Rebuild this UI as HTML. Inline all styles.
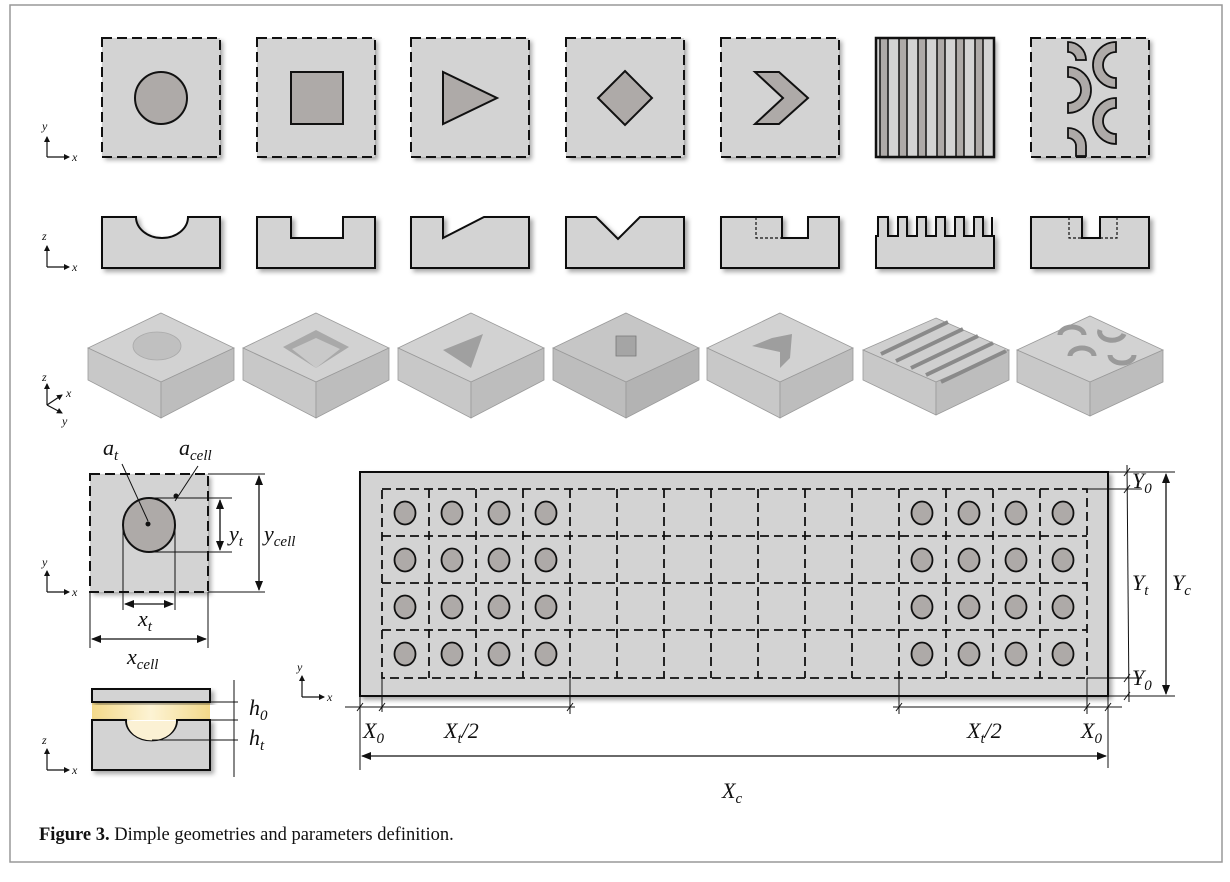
<!DOCTYPE html>
<html><head><meta charset="utf-8"><style>
html,body{margin:0;padding:0;background:#fff;}
svg{display:block;}
.t{font-family:"Liberation Serif",serif;font-style:italic;fill:#111;}
</style></head><body>
<svg width="1230" height="882" viewBox="0 0 1230 882" xmlns="http://www.w3.org/2000/svg">
<defs>
<filter id="sh" x="-10%" y="-10%" width="130%" height="130%"><feDropShadow dx="3" dy="3" stdDeviation="2.5" flood-color="#000" flood-opacity="0.35"/></filter>
<marker id="ah" markerWidth="10" markerHeight="8" refX="9" refY="4" orient="auto-start-reverse" markerUnits="userSpaceOnUse"><path d="M0,0 L10,4 L0,8 z" fill="#111"/></marker>
<marker id="sa" markerWidth="6" markerHeight="6" refX="5" refY="3" orient="auto" markerUnits="userSpaceOnUse"><path d="M0,0 L6,3 L0,6 z" fill="#111"/></marker>
<linearGradient id="yel" x1="0" y1="0" x2="1" y2="0"><stop offset="0" stop-color="#f3d98a"/><stop offset="0.5" stop-color="#fdf3d4"/><stop offset="1" stop-color="#f3d98a"/></linearGradient>
</defs>
<rect x="10" y="5" width="1212" height="857" fill="#fff" stroke="#999" stroke-width="1.5"/>

<!-- axis icons -->
<g stroke="#111" stroke-width="1.2" fill="none">
<path d="M47,157 H69" marker-end="url(#sa)"/><path d="M47,157 V137" marker-end="url(#sa)"/>
<path d="M47,267 H69" marker-end="url(#sa)"/><path d="M47,267 V246" marker-end="url(#sa)"/>
<path d="M47,405 V384" marker-end="url(#sa)"/><path d="M47,405 L62,395" marker-end="url(#sa)"/><path d="M47,405 L62,413" marker-end="url(#sa)"/>
<path d="M47,592 H69" marker-end="url(#sa)"/><path d="M47,592 V571" marker-end="url(#sa)"/>
<path d="M47,770 H69" marker-end="url(#sa)"/><path d="M47,770 V749" marker-end="url(#sa)"/>
<path d="M302,697 H324" marker-end="url(#sa)"/><path d="M302,697 V676" marker-end="url(#sa)"/>
</g>
<g class="t" font-size="12">
<text x="42" y="130">y</text><text x="72" y="161">x</text>
<text x="42" y="240">z</text><text x="72" y="271">x</text>
<text x="42" y="381">z</text><text x="66" y="397">x</text><text x="62" y="425">y</text>
<text x="42" y="566">y</text><text x="72" y="596">x</text>
<text x="42" y="744">z</text><text x="72" y="774">x</text>
<text x="297" y="671">y</text><text x="327" y="701">x</text>
</g>

<!-- Row 1 -->
<g filter="url(#sh)">
<rect x="102" y="38" width="118" height="119" fill="#d3d3d3"/>
<rect x="257" y="38" width="118" height="119" fill="#d3d3d3"/>
<rect x="411" y="38" width="118" height="119" fill="#d3d3d3"/>
<rect x="566" y="38" width="118" height="119" fill="#d3d3d3"/>
<rect x="721" y="38" width="118" height="119" fill="#d3d3d3"/>
<rect x="876" y="38" width="118" height="119" fill="#d3d3d3"/>
<rect x="1031" y="38" width="118" height="119" fill="#d3d3d3"/>
</g>
<g fill="none" stroke="#111" stroke-width="2" stroke-dasharray="10 5">
<rect x="102" y="38" width="118" height="119"/><rect x="257" y="38" width="118" height="119"/>
<rect x="411" y="38" width="118" height="119"/><rect x="566" y="38" width="118" height="119"/>
<rect x="721" y="38" width="118" height="119"/><rect x="1031" y="38" width="118" height="119"/>
</g>
<g fill="#aeaaa8" stroke="#111" stroke-width="2">
<ellipse cx="161" cy="98" rx="26" ry="26"/>
<rect x="291" y="72" width="52" height="52"/>
<polygon points="443,72 443,124 497,98"/>
<polygon points="625,71 652,98 625,125 598,98"/>
<polygon points="755,72 779,72 808,98 779,124 755,124 783,98"/>
</g>
<g stroke="#111" stroke-width="1.5" fill="#aeaaa8">
<rect x="880" y="38" width="8" height="119"/><rect x="899" y="38" width="8" height="119"/>
<rect x="918" y="38" width="8" height="119"/><rect x="937" y="38" width="8" height="119"/>
<rect x="956" y="38" width="8" height="119"/><rect x="975" y="38" width="8" height="119"/>
</g>
<rect x="876" y="38" width="118" height="119" fill="none" stroke="#111" stroke-width="2.5"/>
<g fill="#aeaaa8" stroke="#111" stroke-width="1.8">
<path d="M1068,42 A18,18 0 0 1 1086,60 L1076,60 A8,8 0 0 0 1068,52 Z"/>
<path d="M1068,67 A23,23 0 0 1 1068,113 L1068,103 A13,13 0 0 0 1068,77 Z"/>
<path d="M1068,128 A18,18 0 0 1 1086,146 L1086,156 L1076,156 L1076,146 A8,8 0 0 0 1068,138 Z"/>
<path d="M1116,42 A23,23 0 0 0 1116,88 L1116,78 A13,13 0 0 1 1116,52 Z"/>
<path d="M1116,98 A23,23 0 0 0 1116,144 L1116,134 A13,13 0 0 1 1116,108 Z"/>
</g>

<!-- Row 2 profiles -->
<g fill="#d3d3d3" stroke="#111" stroke-width="2" filter="url(#sh)">
<path d="M102,217 H136 A26,21 0 0 0 188,217 H220 V268 H102 Z"/>
<path d="M257,217 H291 V238 H343 V217 H375 V268 H257 Z"/>
<path d="M411,217 H443 V238 L484,217 H529 V268 H411 Z"/>
<path d="M566,217 H596 L618,239 L640,217 H684 V268 H566 Z"/>
<path d="M721,217 H782 V238 H808 V217 H839 V268 H721 Z"/>
<path d="M878,217 H888 V236 H898 V217 H907 V236 H917 V217 H926 V236 H936 V217 H945 V236 H955 V217 H964 V236 H974 V217 H983 V236 H992 V217 H992 V236 H994 V268 H876 V236 H878 Z"/>
<path d="M1031,217 H1082 V238 H1100 V217 H1149 V268 H1031 Z"/>
</g>
<g stroke="#111" stroke-width="1.2" fill="none" stroke-dasharray="3 2">
<path d="M756,217 V238 H782"/>
<path d="M1069,217 V238 H1082 M1100,238 H1117 V217"/>
</g>

<!-- Row 3 3D blocks -->
<g stroke="#9a9a9a" stroke-width="0.8">
<g transform="translate(161,0)"><polygon points="0,313 73,348 0,382 -73,348" fill="#d2d2d2"/><polygon points="-73,348 0,382 0,418 -73,380" fill="#c8c8c8"/><polygon points="73,348 0,382 0,418 73,380" fill="#bdbdbd"/><ellipse cx="-4" cy="346" rx="24" ry="14" fill="#c0c0c0" stroke="#aaa"/></g>
<g transform="translate(316,0)"><polygon points="0,313 73,348 0,382 -73,348" fill="#d2d2d2"/><polygon points="-73,348 0,382 0,418 -73,380" fill="#c8c8c8"/><polygon points="73,348 0,382 0,418 73,380" fill="#bdbdbd"/><polygon points="0,330 33,347 0,368 -33,347" fill="#a9a9a9" stroke="none"/><polygon points="0,338 24,349 0,368 -24,349" fill="#c9c9c9" stroke="none"/></g>
<g transform="translate(471,0)"><polygon points="0,313 73,348 0,382 -73,348" fill="#d2d2d2"/><polygon points="-73,348 0,382 0,418 -73,380" fill="#c8c8c8"/><polygon points="73,348 0,382 0,418 73,380" fill="#bdbdbd"/><polygon points="-28,350 12,334 0,368" fill="#a0a0a0" stroke="none"/></g>
<g transform="translate(626,0)"><polygon points="0,313 73,348 0,382 -73,348" fill="#c6c6c6"/><polygon points="-73,348 0,382 0,418 -73,380" fill="#bdbdbd"/><polygon points="73,348 0,382 0,418 73,380" fill="#b3b3b3"/><polygon points="-10,336 10,336 10,356 -10,356" fill="#a5a5a5" stroke="#777"/></g>
<g transform="translate(780,0)"><polygon points="0,313 73,348 0,382 -73,348" fill="#d2d2d2"/><polygon points="-73,348 0,382 0,418 -73,380" fill="#c8c8c8"/><polygon points="73,348 0,382 0,418 73,380" fill="#bdbdbd"/><polygon points="-28,346 -8,338 12,334 10,358 0,368 0,352" fill="#9e9e9e" stroke="none"/></g>
<g transform="translate(936,0)"><polygon points="0,318 73,350 0,382 -73,350" fill="#cfcfcf"/><polygon points="-73,350 0,382 0,415 -73,380" fill="#c8c8c8"/><polygon points="73,350 0,382 0,415 73,380" fill="#bdbdbd"/>
<g stroke="#8a8a8a" stroke-width="4"><line x1="-55" y1="354" x2="12" y2="322"/><line x1="-40" y1="361" x2="27" y2="329"/><line x1="-25" y1="368" x2="42" y2="336"/><line x1="-10" y1="375" x2="57" y2="343"/><line x1="5" y1="382" x2="70" y2="351"/></g></g>
<g transform="translate(1090,0)"><polygon points="0,316 73,350 0,382 -73,350" fill="#d2d2d2"/><polygon points="-73,350 0,382 0,416 -73,382" fill="#c8c8c8"/><polygon points="73,350 0,382 0,416 73,382" fill="#bdbdbd"/>
<g fill="none" stroke="#9a9a9a" stroke-width="5"><path d="M-30,335 a12,8 0 0 1 24,0"/><path d="M10,330 a12,8 0 0 0 24,4"/><path d="M-20,356 a12,8 0 0 1 24,0"/><path d="M20,355 a12,8 0 0 0 24,0"/></g></g>
</g>

<!-- Bottom-left cell -->
<rect x="90" y="474" width="118" height="118" fill="#d3d3d3" filter="url(#sh)"/>
<rect x="90" y="474" width="118" height="118" fill="none" stroke="#111" stroke-width="2" stroke-dasharray="10 5"/>
<ellipse cx="149" cy="525" rx="26" ry="27" fill="#aeaaa8" stroke="#111" stroke-width="2"/>
<g stroke="#111" stroke-width="1" fill="none">
<line x1="208" y1="474" x2="265" y2="474"/><line x1="208" y1="592" x2="265" y2="592"/>
<line x1="150" y1="498" x2="232" y2="498"/><line x1="150" y1="552" x2="232" y2="552"/>
<line x1="123" y1="525" x2="123" y2="610"/><line x1="175" y1="525" x2="175" y2="610"/>
<line x1="90" y1="592" x2="90" y2="648"/><line x1="208" y1="592" x2="208" y2="648"/>
<line x1="148" y1="521" x2="122" y2="464"/><line x1="175" y1="501" x2="198" y2="466"/>
</g>
<g stroke="#111" stroke-width="1.3" fill="none">
<line x1="259" y1="476" x2="259" y2="590" marker-start="url(#ah)" marker-end="url(#ah)"/>
<line x1="220" y1="500" x2="220" y2="550" marker-start="url(#ah)" marker-end="url(#ah)"/>
<line x1="125" y1="604" x2="173" y2="604" marker-start="url(#ah)" marker-end="url(#ah)"/>
<line x1="92" y1="639" x2="206" y2="639" marker-start="url(#ah)" marker-end="url(#ah)"/>
</g>
<circle cx="148" cy="524" r="2.5" fill="#111"/><circle cx="176" cy="496" r="2.5" fill="#111"/>
<g class="t" font-size="22">
<text x="103" y="455">a<tspan font-size="15" dy="5">t</tspan></text>
<text x="179" y="455">a<tspan font-size="15" dy="5">cell</tspan></text>
<text x="229" y="541">y<tspan font-size="15" dy="5">t</tspan></text>
<text x="264" y="541">y<tspan font-size="15" dy="5">cell</tspan></text>
<text x="138" y="626">x<tspan font-size="15" dy="5">t</tspan></text>
<text x="127" y="664">x<tspan font-size="15" dy="5">cell</tspan></text>
<text x="249" y="715">h<tspan font-size="15" dy="5">0</tspan></text>
<text x="249" y="745">h<tspan font-size="15" dy="5">t</tspan></text>
</g>

<!-- bottom-left profile -->
<rect x="92" y="703" width="118" height="17" fill="url(#yel)"/>
<rect x="92" y="689" width="118" height="13" fill="#d3d3d3" stroke="#111" stroke-width="2" filter="url(#sh)"/>
<path d="M92,720 H126 A25,20 0 0 0 177,720 H210 V770 H92 Z" fill="#d3d3d3" stroke="#111" stroke-width="2" filter="url(#sh)"/>
<path d="M127,721 A24,19 0 0 0 176,721 Z" fill="#fbf1d4"/>
<g stroke="#111" stroke-width="1" fill="none">
<line x1="234" y1="680" x2="234" y2="777"/>
<line x1="210" y1="702" x2="238" y2="702"/><line x1="210" y1="720" x2="238" y2="720"/><line x1="152" y1="740" x2="238" y2="740"/>
</g>

<!-- Big plate -->
<rect x="360" y="472" width="748" height="224" fill="#d3d3d3" stroke="#111" stroke-width="2" filter="url(#sh)"/>
<g fill="none" stroke="#111" stroke-width="1.8" stroke-dasharray="9 5">
<rect x="382" y="489" width="705" height="189"/>
<path d="M429,489V678 M476,489V678 M523,489V678 M570,489V678 M617,489V678 M664,489V678 M711,489V678 M758,489V678 M805,489V678 M852,489V678 M899,489V678 M946,489V678 M993,489V678 M1040,489V678"/>
<path d="M382,536H1087 M382,583H1087 M382,630H1087"/>
</g>
<g fill="#aeaaa8" stroke="#111" stroke-width="1.8">
<g id="cr">
<ellipse cx="405" cy="513" rx="10.5" ry="11.5"/><ellipse cx="452" cy="513" rx="10.5" ry="11.5"/><ellipse cx="499" cy="513" rx="10.5" ry="11.5"/><ellipse cx="546" cy="513" rx="10.5" ry="11.5"/>
<ellipse cx="922" cy="513" rx="10.5" ry="11.5"/><ellipse cx="969" cy="513" rx="10.5" ry="11.5"/><ellipse cx="1016" cy="513" rx="10.5" ry="11.5"/><ellipse cx="1063" cy="513" rx="10.5" ry="11.5"/>
</g>
<use href="#cr" y="47"/><use href="#cr" y="94"/><use href="#cr" y="141"/>
</g>
<!-- plate dims -->
<g stroke="#111" stroke-width="1" fill="none">
<line x1="345" y1="707" x2="575" y2="707"/><line x1="893" y1="707" x2="1122" y2="707"/>
<line x1="360" y1="696" x2="360" y2="770"/><line x1="382" y1="678" x2="382" y2="712"/>
<line x1="570" y1="678" x2="570" y2="714"/><line x1="899" y1="678" x2="899" y2="714"/>
<line x1="1087" y1="678" x2="1087" y2="714"/><line x1="1108" y1="696" x2="1108" y2="768"/>
<line x1="1108" y1="472" x2="1175" y2="472"/><line x1="1087" y1="489" x2="1142" y2="489"/>
<line x1="1087" y1="678" x2="1142" y2="678"/><line x1="1108" y1="696" x2="1175" y2="696"/>
<line x1="1127" y1="465" x2="1129" y2="702"/>
<path d="M357,711 l6,-8 M379,711 l6,-8 M567,711 l6,-8 M896,711 l6,-8 M1084,711 l6,-8 M1105,711 l6,-8 M1124,476 l6,-8 M1124,493 l6,-8 M1124,682 l6,-8 M1124,700 l6,-8"/>
</g>
<g stroke="#111" stroke-width="1.3" fill="none">
<line x1="362" y1="756" x2="1106" y2="756" marker-start="url(#ah)" marker-end="url(#ah)"/>
<line x1="1166" y1="474" x2="1166" y2="694" marker-start="url(#ah)" marker-end="url(#ah)"/>
</g>
<g class="t" font-size="22">
<text x="363" y="738">X<tspan font-size="15" dy="5">0</tspan></text>
<text x="444" y="738">X<tspan font-size="15" dy="5">t</tspan><tspan dy="-5">/2</tspan></text>
<text x="967" y="738">X<tspan font-size="15" dy="5">t</tspan><tspan dy="-5">/2</tspan></text>
<text x="1081" y="738">X<tspan font-size="15" dy="5">0</tspan></text>
<text x="722" y="798">X<tspan font-size="15" dy="5">c</tspan></text>
<text x="1132" y="488">Y<tspan font-size="15" dy="5">0</tspan></text>
<text x="1132" y="685">Y<tspan font-size="15" dy="5">0</tspan></text>
<text x="1132" y="590">Y<tspan font-size="15" dy="5">t</tspan></text>
<text x="1172" y="590">Y<tspan font-size="15" dy="5">c</tspan></text>
</g>

<text x="39" y="840" font-family="Liberation Serif,serif" font-size="18.5" fill="#111"><tspan font-weight="bold">Figure 3.</tspan> Dimple geometries and parameters definition.</text>
</svg>
</body></html>
